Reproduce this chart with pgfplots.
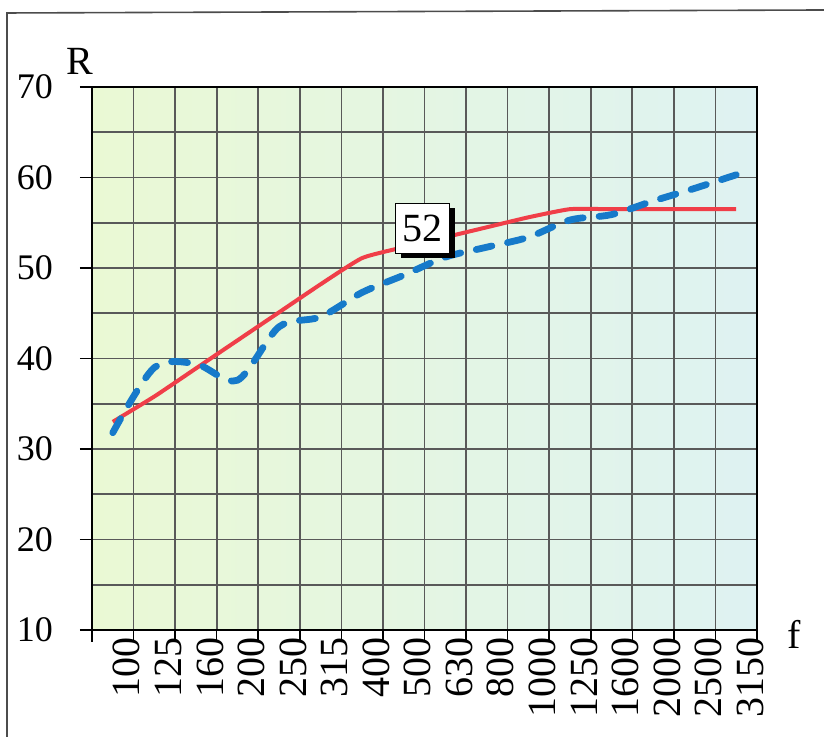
\documentclass[border=0pt]{standalone}
\usepackage{pgfplots}
\pgfplotsset{compat=1.18}
\usepackage{fontspec}
\setmainfont{Liberation Serif}
\usetikzlibrary{shadows}
\definecolor{redline}{RGB}{240,62,72}
\definecolor{blueline}{RGB}{22,122,202}
\definecolor{bgleft}{RGB}{234,249,212}
\definecolor{bgright}{RGB}{222,242,242}
\begin{document}
\begin{tikzpicture}
\useasboundingbox (0,0) rectangle (412pt,368.5pt);
\draw[line width=0.8pt, black!70] (3.5pt,0) -- (3.5pt,362pt) -- (412pt,363.5pt);
\begin{axis}[
  at={(46pt,53.5pt)}, anchor=south west,
  scale only axis, width=332.5pt, height=271.5pt,
  xmin=-0.5, xmax=15.5, ymin=10, ymax=70,
  xtick={-0.5,0.5,1.5,2.5,3.5,4.5,5.5,6.5,7.5,8.5,9.5,10.5,11.5,12.5,13.5,14.5,15.5},
  xticklabels={},
  extra x ticks={0,1,2,3,4,5,6,7,8,9,10,11,12,13,14,15},
  extra x tick labels={100,125,160,200,250,315,400,500,630,800,1000,1250,1600,2000,2500,3150},
  extra x tick style={grid=none, major tick length=0pt},
  ytick={10,20,30,40,50,60,70}, minor ytick={15,25,35,45,55,65},
  grid=both,
  major grid style={black!65, line width=0.85pt},
  minor grid style={black!65, line width=0.8pt},
  xtick pos=bottom, ytick pos=left,
  tick align=outside, major tick length=6pt, minor tick length=0pt,
  tick style={black, line width=0.8pt},
  axis line style={black, line width=1.2pt},
  axis background/.style={left color=bgleft, right color=bgright},
  /pgf/number format/assume math mode=true,
  x tick label style={rotate=90, anchor=east, yshift=-7pt, font=\fontsize{20}{20}\selectfont},
  y tick label style={xshift=-10pt, font=\fontsize{18}{18}\selectfont},
  clip=false,
]
\addplot[redline, line width=2pt, smooth, tension=0.3] coordinates {
 (0,33.0) (1,35.8) (2,38.9) (3,42.0) (4,45.1) (5,48.2) (6,51.1) (7,52.3)
 (8,53.4) (9,54.5) (10,55.6) (11,56.5) (12,56.5) (13,56.5) (14,56.5) (15,56.5)};
\addplot[blueline, line width=3.4pt, line cap=round, dash pattern=on 8pt off 8pt, smooth, tension=0.5] coordinates {
 (0,31.8) (1,39.0) (2,39.4) (3,37.6) (4,43.5) (5,44.6) (6,47.3) (7,49.2)
 (8,51.2) (9,52.3) (10,53.4) (11,55.3) (12,55.9) (13,57.4) (14,58.8) (15,60.3)};
\node[draw=black, line width=0.5pt, fill=white, minimum width=27pt, minimum height=25pt, inner sep=0pt,
  drop shadow={shadow xshift=2.5pt, shadow yshift=-2.5pt, fill=black, opacity=1},
  font=\fontsize{20}{20}\selectfont] at (axis cs:7.46,54.4) {52};
\node[font=\fontsize{20}{20}\selectfont] at (rel axis cs:-0.018,1.048) {R};
\node[font=\fontsize{20}{20}\selectfont] at (rel axis cs:1.056,-0.009) {f};
\end{axis}
\end{tikzpicture}
\end{document}
